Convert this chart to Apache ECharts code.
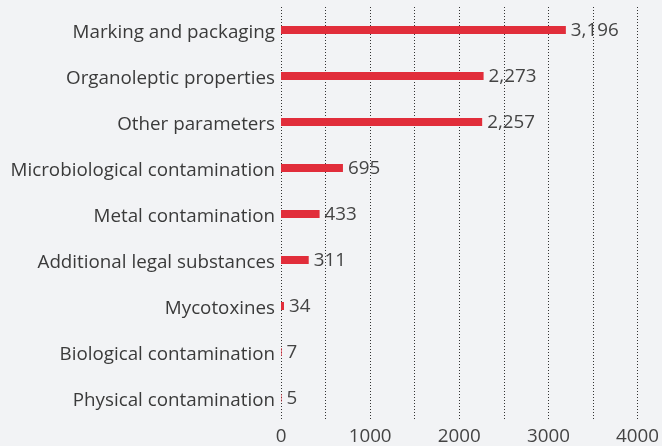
<!DOCTYPE html>
<html>
<head>
<meta charset="utf-8">
<script src="https://cdn.jsdelivr.net/npm/echarts@6/dist/echarts.min.js"></script>
<style>
  html, body { margin: 0; padding: 0; background: #f2f3f5; }
  #chart { width: 662px; height: 446px; }
</style>
</head>
<body>
<div id="chart"></div>
<script>
// Non-compliance categories, listed top to bottom
const categories = [
  'Marking and packaging',
  'Organoleptic properties',
  'Other parameters',
  'Microbiological contamination',
  'Metal contamination',
  'Additional legal substances',
  'Mycotoxines',
  'Biological contamination',
  'Physical contamination'
];
const counts = [3196, 2273, 2257, 695, 433, 311, 34, 7, 5];
const axisTicks = [0, 1000, 2000, 3000, 4000];

const chart = echarts.init(document.getElementById('chart'));
const font = '"Open Sans", "Noto Sans", sans-serif';
const size = 18.8;

chart.setOption({
  backgroundColor: '#f2f3f5',
  animation: false,
  grid: { left: 281, right: 24, top: 7, bottom: 22, containLabel: false },
  xAxis: {
    type: 'value',
    min: axisTicks[0],
    max: axisTicks[axisTicks.length - 1],
    interval: 1000,
    axisLine: { show: false },
    axisTick: { show: false },
    axisLabel: {
      color: '#444',
      fontFamily: font,
      fontSize: size,
      margin: 6,
      formatter: v => String(v)
    },
    splitLine: { show: true, lineStyle: { color: '#333', type: [1, 2], width: 1 } },
    minorTick: { show: false, splitNumber: 2 },
    minorSplitLine: { show: true, lineStyle: { color: '#333', type: [1, 2], width: 1 } }
  },
  yAxis: {
    type: 'category',
    inverse: true,
    data: categories,
    axisLine: { show: false },
    axisTick: { show: false },
    axisLabel: {
      margin: 6,
      formatter: v => '{c|' + v + '}',
      rich: {
        c: {
          color: '#3a3a3a',
          fontFamily: font,
          fontSize: size,
          padding: [6, 0, 0, 0]
        }
      }
    }
  },
  series: [{
    type: 'bar',
    data: counts,
    barWidth: 8,
    itemStyle: { color: '#e12d3a' },
    label: {
      show: true,
      position: 'right',
      distance: 5,
      offset: [0, 1],
      color: '#444',
      fontFamily: font,
      fontSize: size,
      formatter: p => p.value.toLocaleString('en-US')
    }
  }]
});
</script>
</body>
</html>
